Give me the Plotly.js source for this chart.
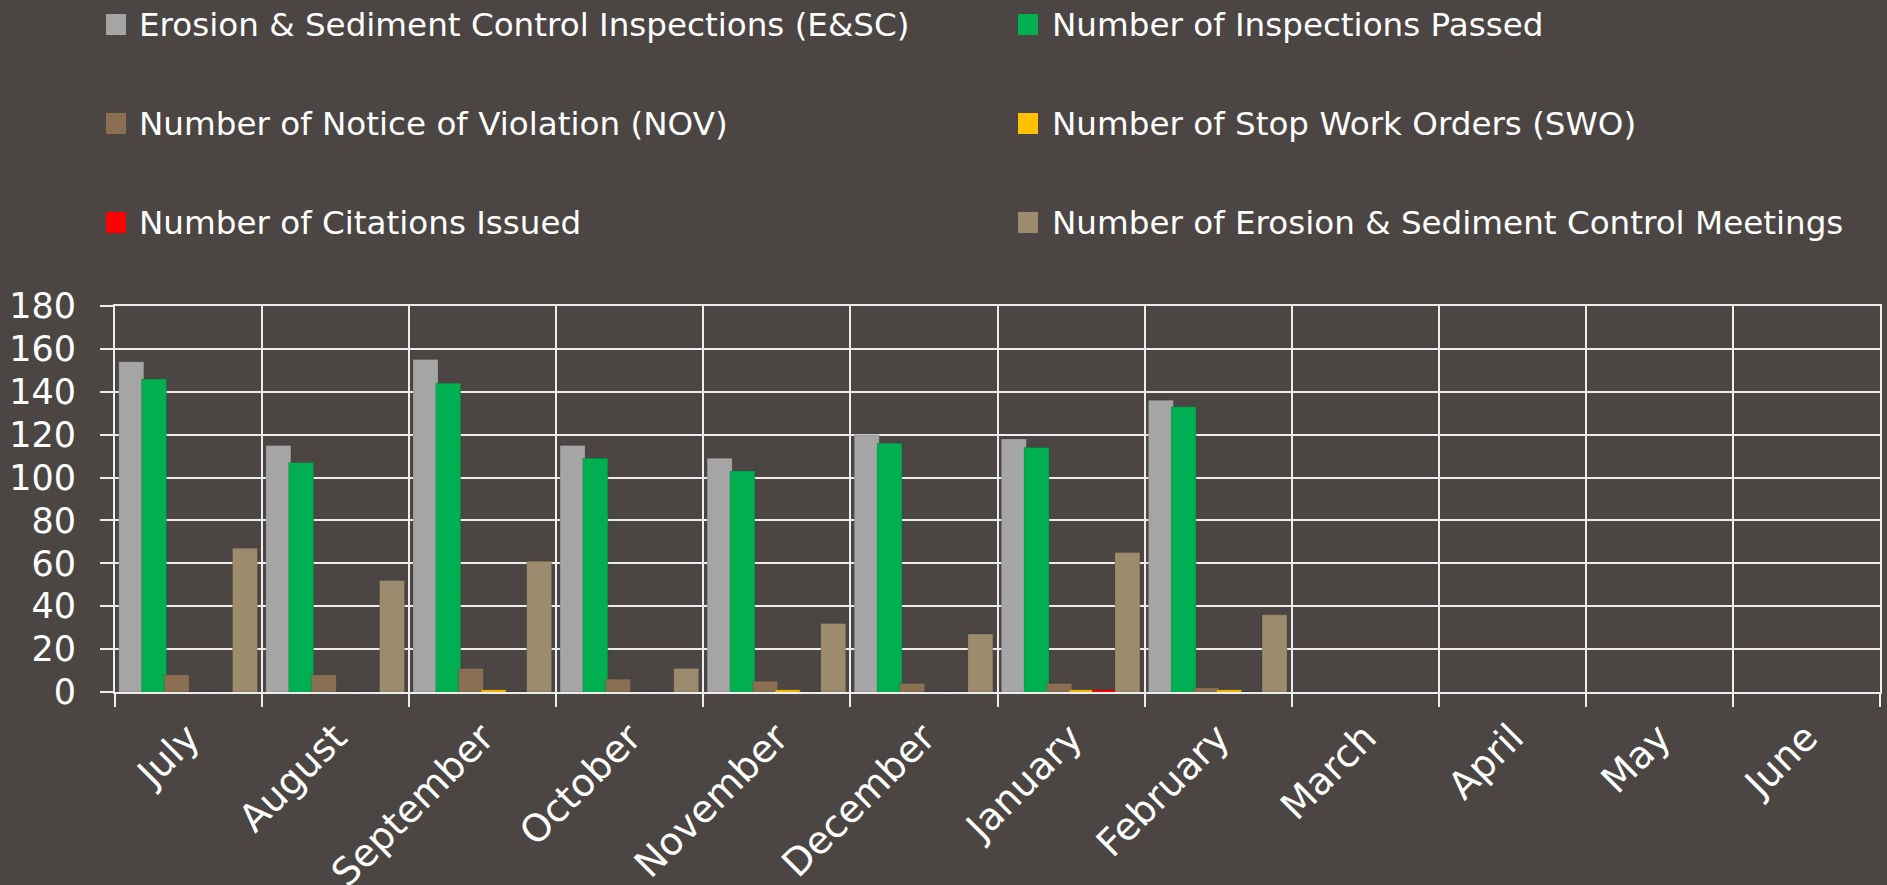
<!DOCTYPE html>
<html>
<head>
<meta charset="utf-8">
<script src="https://cdn.plot.ly/plotly-3.0.1.min.js"></script>
<style>
  html, body { margin: 0; padding: 0; background: #4b4644; }
  #chart { width: 1887px; height: 885px; }
</style>
</head>
<body>
<div id="chart"></div>
<script>
// ---- data ----
const months = ["July", "August", "September", "October", "November", "December",
                "January", "February", "March", "April", "May", "June"];
const seriesNames = [
  "Erosion & Sediment Control Inspections (E&SC)",
  "Number of Inspections Passed",
  "Number of Notice of Violation (NOV)",
  "Number of Stop Work Orders (SWO)",
  "Number of Citations Issued",
  "Number of Erosion & Sediment Control Meetings"
];
const inspections = [154, 115, 155, 115, 109, 120, 118, 136, null, null, null, null];
const passed      = [146, 107, 144, 109, 103, 116, 114, 133, null, null, null, null];
const nov         = [8, 8, 11, 6, 5, 4, 4, 2, null, null, null, null];
const swo         = [0, 0, 1, 0, 1, 0, 1, 1, null, null, null, null];
const citations   = [0, 0, 0, 0, 0, 0, 1, 0, null, null, null, null];
const meetings    = [67, 52, 61, 11, 32, 27, 65, 36, null, null, null, null];
const yTicks = [0, 20, 40, 60, 80, 100, 120, 140, 160, 180];

const seriesValues = [inspections, passed, nov, swo, citations, meetings];
const colors = ["#A5A5A5", "#00B050", "#8A6F52", "#FFC000", "#FF0000", "#9C8B6C"];

// ---- layout constants ----
const W = 1887, H = 885;
const M = {l: 115, r: 7, t: 306, b: 193};
const PW = W - M.l - M.r, PH = H - M.t - M.b;
const FONT = "DejaVu Sans, Verdana, sans-serif";

const traces = seriesValues.map((vals, i) => ({
  type: "bar",
  name: seriesNames[i],
  x: months,
  y: vals,
  offset: -0.474 + i * 0.1545,
  width: 0.17,
  marker: {color: colors[i], line: {color: "rgba(0,0,0,0.12)", width: 1}},
  showlegend: false,
  hoverinfo: "x+y+name"
}));

// custom legend (two columns, three rows)
const rowY = [24.5, 123.5, 222.5];
const colMarkX = [106, 1018];
const colTextX = [137, 1050];
const px2x = p => (p - M.l) / PW;
const px2y = p => (M.t + PH - p) / PH;
const shapes = [];
const annotations = [];
seriesNames.forEach((nm, i) => {
  const r = Math.floor(i / 2), c = i % 2;
  const cy = rowY[r];
  shapes.push({
    type: "rect", xref: "paper", yref: "paper",
    x0: px2x(colMarkX[c]), x1: px2x(colMarkX[c] + 20),
    y0: px2y(cy + 10.5), y1: px2y(cy - 10.5),
    fillcolor: colors[i], line: {width: 0}
  });
  annotations.push({
    xref: "paper", yref: "paper", x: 0, y: 1,
    xshift: colTextX[c] - M.l, yshift: M.t - cy,
    xanchor: "left", yanchor: "middle",
    text: nm, showarrow: false,
    font: {family: FONT, size: 32.6, color: "#FFFFFF"}
  });
});

const layout = {
  width: W, height: H,
  margin: M,
  paper_bgcolor: "#4b4644",
  plot_bgcolor: "rgba(0,0,0,0)",
  barmode: "overlay",
  font: {family: FONT, color: "#FFFFFF"},
  showlegend: false,
  xaxis: {
    type: "category",
    categoryorder: "array",
    categoryarray: months,
    range: [-0.5, 11.5],
    tickson: "boundaries",
    ticks: "outside", ticklen: 13, tickwidth: 2, tickcolor: "#EDEDED",
    showgrid: true, gridcolor: "#EDEDED", gridwidth: 2,
    showline: true, linecolor: "#EDEDED", linewidth: 2, mirror: true,
    tickangle: -45,
    tickfont: {family: FONT, size: 38, color: "#FFFFFF"},
    ticklabelstandoff: 6,
    fixedrange: true
  },
  yaxis: {
    range: [0, 180],
    tickvals: yTicks,
    ticktext: yTicks.map(String),
    ticks: "outside", ticklen: 13, tickwidth: 2, tickcolor: "#EDEDED",
    showgrid: true, gridcolor: "#EDEDED", gridwidth: 2,
    zeroline: false,
    showline: true, linecolor: "#EDEDED", linewidth: 2, mirror: true,
    tickfont: {family: FONT, size: 35, color: "#FFFFFF"},
    ticklabelstandoff: 17,
    fixedrange: true
  },
  shapes: shapes,
  annotations: annotations
};

Plotly.newPlot("chart", traces, layout, {displayModeBar: false, staticPlot: true});
</script>
</body>
</html>
